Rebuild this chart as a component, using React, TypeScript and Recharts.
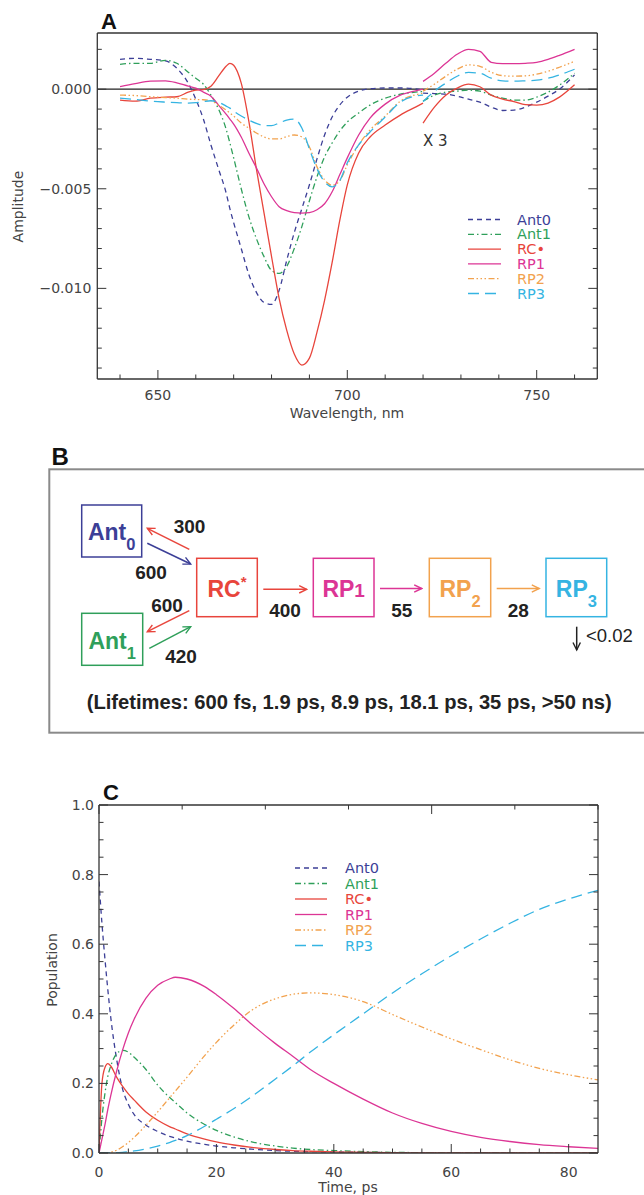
import React from 'react';
import { LineChart, Line, XAxis, YAxis, ReferenceLine } from 'recharts';

// ---- panel A: decay-associated spectra (amplitude in units of 1e-3) ----
const wavelengths = [640, 644, 648, 652, 655, 658, 660, 662, 664, 666, 668, 669, 670, 672, 674, 676, 678, 680, 682, 684, 686, 688, 690, 692, 694, 696, 698, 700, 703, 706, 710, 714, 718, 720];
const ant0Amp = [1.5, 1.55, 1.5, 1.42, 1.05, 0.3, -0.5, -1.5, -2.8, -4.0, -5.2, -6.0, -6.7, -8.0, -9.3, -10.2, -10.7, -10.8, -10.1, -8.6, -7.2, -6.0, -4.8, -3.5, -2.3, -1.4, -0.8, -0.4, -0.1, 0.02, 0.06, 0.06, 0.02, -0.05];
const ant1Amp = [1.25, 1.3, 1.3, 1.45, 1.3, 0.85, 0.55, 0.25, -0.3, -1.0, -2.0, -2.7, -3.45, -5.0, -6.4, -7.5, -8.4, -9.1, -9.25, -8.9, -8.0, -6.9, -5.6, -4.4, -3.4, -2.7, -2.1, -1.65, -1.2, -0.8, -0.45, -0.25, -0.15, -0.12];
const rcAmp = [-0.55, -0.6, -0.45, -0.4, -0.38, -0.15, -0.05, -0.02, 0.15, 0.65, 1.15, 1.3, 1.2, 0.3, -1.6, -4.0, -6.2, -8.4, -10.5, -12.1, -13.3, -13.85, -13.5, -12.2, -10.6, -8.7, -6.6, -4.8, -3.2, -2.4, -1.8, -1.3, -0.9, -0.7];
const rp1Amp = [0.13, 0.28, 0.4, 0.42, 0.32, 0.15, 0.05, -0.15, -0.35, -0.8, -1.25, -1.5, -1.75, -2.4, -3.2, -3.95, -4.75, -5.4, -5.9, -6.1, -6.2, -6.22, -6.2, -6.05, -5.75, -5.15, -4.3, -3.45, -2.3, -1.45, -0.75, -0.3, -0.08, 0.0];
const rp2Amp = [-0.3, -0.32, -0.38, -0.42, -0.45, -0.5, -0.52, -0.53, -0.58, -0.8, -1.05, -1.2, -1.35, -1.7, -1.95, -2.2, -2.4, -2.5, -2.5, -2.38, -2.3, -2.4, -2.9, -3.9, -4.55, -4.82, -4.6, -3.8, -2.8, -2.05, -1.35, -0.6, -0.28, -0.2];
const rp3Amp = [-0.45, -0.52, -0.6, -0.65, -0.68, -0.7, -0.68, -0.62, -0.58, -0.65, -0.85, -0.95, -1.1, -1.35, -1.55, -1.72, -1.82, -1.83, -1.7, -1.55, -1.5, -1.95, -3.0, -4.0, -4.65, -4.9, -4.6, -3.7, -2.8, -2.15, -1.4, -0.65, -0.35, -0.3];

// the part above 720 nm is drawn magnified x3
const wavelengthsX3 = [720, 723, 726, 729, 732, 735, 738, 741, 744, 747, 750, 753, 756, 760];
const ant0AmpX3 = [-0.2, -0.22, -0.25, -0.35, -0.5, -0.65, -0.9, -1.07, -1.05, -0.9, -0.65, -0.35, 0.0, 0.72];
const ant1AmpX3 = [-0.6, -0.3, -0.15, -0.1, -0.05, -0.1, -0.3, -0.45, -0.55, -0.55, -0.4, -0.15, 0.2, 0.8];
const rcAmpX3 = [-1.7, -0.9, -0.3, 0.05, 0.25, 0.12, -0.3, -0.5, -0.62, -0.78, -0.8, -0.7, -0.4, 0.22];
const rp1AmpX3 = [0.39, 0.8, 1.3, 1.75, 2.0, 1.9, 1.35, 1.28, 1.28, 1.3, 1.35, 1.5, 1.7, 2.0];
const rp2AmpX3 = [-0.1, 0.25, 0.65, 1.0, 1.22, 1.15, 0.85, 0.68, 0.65, 0.67, 0.75, 0.9, 1.1, 1.4];
const rp3AmpX3 = [-0.62, -0.1, 0.3, 0.65, 0.84, 0.8, 0.55, 0.42, 0.4, 0.42, 0.45, 0.55, 0.72, 1.0];

const wlTicks = [640, 650, 660, 670, 680, 690, 700, 710, 720, 730, 740, 750, 760];
const ampTicks = [-14, -13, -12, -11, -10, -9, -8, -7, -6, -5, -4, -3, -2, -1, 0, 1, 2];

// ---- panel C: populations ----
const times = [0, 0.5, 1, 1.5, 2, 3, 4, 5, 6, 8, 10, 12, 13, 15, 18, 20, 23, 26, 30, 33, 36, 40, 45, 50, 55, 60, 65, 70, 75, 80, 85];
const ant0Pop = [0.78, 0.66, 0.56, 0.47, 0.39, 0.27, 0.185, 0.14, 0.11, 0.08, 0.062, 0.048, 0.043, 0.034, 0.025, 0.02, 0.015, 0.011, 0.007, 0.005, 0.004, 0.003, 0.002, 0.001, 0.0005, 0, 0, 0, 0, 0, 0];
const ant1Pop = [0, 0.1, 0.17, 0.22, 0.25, 0.285, 0.295, 0.29, 0.275, 0.24, 0.195, 0.16, 0.145, 0.115, 0.082, 0.065, 0.046, 0.032, 0.02, 0.014, 0.01, 0.007, 0.004, 0.002, 0.001, 0.0005, 0, 0, 0, 0, 0];
const rcPop = [0, 0.2, 0.245, 0.257, 0.25, 0.218, 0.192, 0.17, 0.152, 0.118, 0.094, 0.076, 0.069, 0.055, 0.04, 0.032, 0.023, 0.016, 0.01, 0.007, 0.005, 0.003, 0.002, 0.001, 0, 0, 0, 0, 0, 0, 0];
const rp1Pop = [0, 0.04, 0.08, 0.125, 0.165, 0.235, 0.295, 0.345, 0.385, 0.445, 0.482, 0.5, 0.505, 0.5, 0.478, 0.455, 0.415, 0.37, 0.315, 0.278, 0.24, 0.2, 0.155, 0.115, 0.085, 0.062, 0.045, 0.033, 0.024, 0.018, 0.013];
const rp2Pop = [0, 0, 0, 0, 0.002, 0.008, 0.018, 0.03, 0.045, 0.08, 0.118, 0.158, 0.178, 0.218, 0.28, 0.318, 0.368, 0.41, 0.443, 0.456, 0.46, 0.455, 0.435, 0.398, 0.362, 0.328, 0.297, 0.268, 0.243, 0.225, 0.21];
const rp3Pop = [0, 0, 0, 0, 0, 0.001, 0.002, 0.004, 0.006, 0.012, 0.02, 0.03, 0.036, 0.05, 0.077, 0.097, 0.128, 0.162, 0.212, 0.25, 0.29, 0.34, 0.4, 0.46, 0.515, 0.567, 0.615, 0.66, 0.7, 0.73, 0.755];

const timeTicks = [0, 5, 10, 15, 20, 25, 30, 35, 40, 45, 50, 55, 60, 65, 70, 75, 80];
const popTicks = [0, 0.05, 0.1, 0.15, 0.2, 0.25, 0.3, 0.35, 0.4, 0.45, 0.5, 0.55, 0.6, 0.65, 0.7, 0.75, 0.8, 0.85, 0.9, 0.95, 1.0];

// ---- panel B: kinetic scheme ----
const rateLabels = ['300', '600', '600', '420', '400', '55', '28'];
const trapRate = '<0.02';
const lifetimes = ['600 fs', '1.9 ps', '8.9 ps', '18.1 ps', '35 ps', '>50 ns'];

const seriesNames = ['Ant0', 'Ant1', 'RC\u2022', 'RP1', 'RP2', 'RP3'];
const keys = ['ant0', 'ant1', 'rc', 'rp1', 'rp2', 'rp3'];

const styles = [
    { color: '#3c3f97', dash: '5 4' },
    { color: '#2f9f5a', dash: '6 3 1.5 3' },
    { color: '#e8453c', dash: undefined },
    { color: '#dc3595', dash: undefined },
    { color: '#f2a24e', dash: '6 2.5 1.5 2.5 1.5 2.5 1.5 2.5' },
    { color: '#35b4e2', dash: '11 6' },
];

const ampSeries = [ant0Amp, ant1Amp, rcAmp, rp1Amp, rp2Amp, rp3Amp];
const ampSeriesX3 = [ant0AmpX3, ant1AmpX3, rcAmpX3, rp1AmpX3, rp2AmpX3, rp3AmpX3];
const popSeries = [ant0Pop, ant1Pop, rcPop, rp1Pop, rp2Pop, rp3Pop];

const wlAll = Array.from(new Set([...wavelengths, ...wavelengthsX3])).sort((a, b) => a - b);
const ampRows = wlAll.map((w) => {
    const row: Record<string, number> = { wl: w };
    const i = wavelengths.indexOf(w);
    const j = wavelengthsX3.indexOf(w);
    keys.forEach((k, s) => {
        if (i >= 0) row[k] = ampSeries[s][i];
        if (j >= 0) row[k + 'X3'] = ampSeriesX3[s][j];
    });
    return row;
});

const popRows = times.map((t, i) => {
    const row: Record<string, number> = { t };
    keys.forEach((k, s) => {
        row[k] = popSeries[s][i];
    });
    return row;
});

const AXIS_FONT = 'DejaVu Sans, Verdana, sans-serif';
const BOLD_FONT = 'Liberation Sans, Arial, Helvetica, sans-serif';
const FRAME = '#353535';
const axisLine = { stroke: FRAME, strokeWidth: 1.3 };

type Side = 'bottom' | 'top' | 'left' | 'right';

const makeTick =
    (side: Side, isMajor: (v: number) => boolean, format?: (v: number) => string, gap = 0) =>
    (p: any) => {
        const x = Number(p.x);
        const y = Number(p.y);
        const v = Number(p.payload.value);
        const len = isMajor(v) ? 9 : 4.5;
        let x2 = x;
        let y2 = y;
        if (side === 'bottom') y2 = y - len;
        if (side === 'top') y2 = y + len;
        if (side === 'left') x2 = x + len;
        if (side === 'right') x2 = x - len;
        let label = null;
        if (format && isMajor(v)) {
            if (side === 'bottom')
                label = (
                    <text x={x} y={y + gap} textAnchor="middle" dominantBaseline="central" fontFamily={AXIS_FONT} fontSize={14} fill="#444">
                        {format(v)}
                    </text>
                );
            if (side === 'left')
                label = (
                    <text x={x - gap} y={y} textAnchor="end" dominantBaseline="central" fontFamily={AXIS_FONT} fontSize={14} fill="#444">
                        {format(v)}
                    </text>
                );
        }
        return (
            <g>
                <line x1={x} y1={y} x2={x2} y2={y2} stroke={FRAME} strokeWidth={1} />
                {label}
            </g>
        );
    };

const wlMajor = (v: number) => v % 50 === 0;
const ampMajor = (v: number) => Math.round(v) % 5 === 0;
const timeMajor = (v: number) => v % 20 === 0;
const popMajor = (v: number) => Math.abs(v * 5 - Math.round(v * 5)) < 1e-6;

const fmtAmp = (v: number) => (v === 0 ? '0.000' : (v < 0 ? '\u2212' : '') + (Math.abs(v) / 1000).toFixed(3));
const fmtInt = (v: number) => String(v);
const fmtPop = (v: number) => v.toFixed(1);

const SeriesLegend: React.FC<{ x1: number; x2: number; tx: number; y0: number; dy: number }> = ({ x1, x2, tx, y0, dy }) => (
    <g>
        {seriesNames.map((n, i) => (
            <g key={n}>
                <line x1={x1} x2={x2} y1={y0 + i * dy} y2={y0 + i * dy} stroke={styles[i].color} strokeDasharray={styles[i].dash} strokeWidth={1.3} />
                <text x={tx} y={y0 + i * dy} dominantBaseline="central" fill={styles[i].color} fontFamily={AXIS_FONT} fontSize={14.5}>
                    {n}
                </text>
            </g>
        ))}
    </g>
);

// scheme layout
const boxes = [
    { x: 81.7, y: 505, w: 60, h: 52, color: '#3c3f97', main: 'Ant', sub: '0', base: 540 },
    { x: 81.7, y: 613.3, w: 61, h: 52, color: '#2f9f5a', main: 'Ant', sub: '1', base: 648.5 },
    { x: 196.7, y: 558.3, w: 60.6, h: 58.4, color: '#e8453c', main: 'RC', sup: '*', base: 596.7 },
    { x: 313.3, y: 558.3, w: 60.7, h: 58.4, color: '#dc3595', main: 'RP', small: '1', base: 596.7 },
    { x: 429.3, y: 558.3, w: 61.4, h: 58.4, color: '#f2a24e', main: 'RP', sub: '2', base: 596.7 },
    { x: 546, y: 558.3, w: 60.7, h: 58.4, color: '#35b4e2', main: 'RP', sub: '3', base: 596.7 },
];

const arrows = [
    { x1: 189.3, y1: 549.3, x2: 147.3, y2: 528.3, color: '#e8453c' },
    { x1: 147.3, y1: 543.3, x2: 190.7, y2: 564, color: '#3c3f97' },
    { x1: 189.3, y1: 610.7, x2: 147.3, y2: 631.7, color: '#e8453c' },
    { x1: 149.3, y1: 648.3, x2: 190.7, y2: 626.7, color: '#2f9f5a' },
    { x1: 263.3, y1: 589.3, x2: 306.7, y2: 589.3, color: '#e8453c' },
    { x1: 380, y1: 588.5, x2: 421.7, y2: 588.5, color: '#dc3595' },
    { x1: 496.7, y1: 588.5, x2: 539.3, y2: 588.5, color: '#f2a24e' },
    { x1: 576.7, y1: 626.7, x2: 576.7, y2: 650, color: '#222222' },
];

const ratePos = [
    { x: 189.5, y: 532.5 },
    { x: 151, y: 578.5 },
    { x: 167, y: 611.5 },
    { x: 181, y: 662.5 },
    { x: 285, y: 616.5 },
    { x: 401.7, y: 616.5 },
    { x: 518.3, y: 616.5 },
];

const Scheme: React.FC = () => (
    <g>
        <defs>
            {arrows.map((a, i) => (
                <marker key={i} id={`ah${i}`} markerWidth={10} markerHeight={10} refX={8.5} refY={5} orient="auto" markerUnits="userSpaceOnUse">
                    <path d="M1,1.3 L8.5,5 L1,8.7" fill="none" stroke={a.color} strokeWidth={1.4} />
                </marker>
            ))}
        </defs>
        <rect x={49.3} y={469.3} width={600} height={263.4} fill="none" stroke="#8a8a8a" strokeWidth={2} />
        <text x={51.5} y={465} fontFamily={BOLD_FONT} fontWeight="bold" fontSize={24} fill="#111">
            B
        </text>
        {boxes.map((b, i) => (
            <g key={i}>
                <rect x={b.x} y={b.y} width={b.w} height={b.h} fill="none" stroke={b.color} strokeWidth={1.5} />
                <text x={b.x + b.w / 2} y={b.base} textAnchor="middle" fontFamily={BOLD_FONT} fontWeight="bold" fontSize={23} fill={b.color}>
                    <tspan>{b.main}</tspan>
                    {b.sub && (
                        <tspan fontSize={16.5} dy={10}>
                            {b.sub}
                        </tspan>
                    )}
                    {b.sup && (
                        <tspan fontSize={15} dy={-10}>
                            {b.sup}
                        </tspan>
                    )}
                    {b.small && <tspan fontSize={19}>{b.small}</tspan>}
                </text>
            </g>
        ))}
        {arrows.map((a, i) => (
            <line key={i} x1={a.x1} y1={a.y1} x2={a.x2} y2={a.y2} stroke={a.color} strokeWidth={1.5} markerEnd={`url(#ah${i})`} />
        ))}
        {rateLabels.map((r, i) => (
            <text key={i} x={ratePos[i].x} y={ratePos[i].y} textAnchor="middle" fontFamily={BOLD_FONT} fontWeight="bold" fontSize={19} fill="#222">
                {r}
            </text>
        ))}
        <text x={586} y={641.5} fontFamily={BOLD_FONT} fontSize={18.5} fill="#222">
            {trapRate}
        </text>
        <text x={86.7} y={709} textLength={525} lengthAdjust="spacingAndGlyphs" fontFamily={BOLD_FONT} fontWeight="bold" fontSize={19.5} fill="#222">
            {`(Lifetimes: ${lifetimes.join(', ')})`}
        </text>
    </g>
);

// axes: bottom/left carry the labels; top/right only tick marks (IDL style frame)
const axisCommon = { interval: 0 as const, tickSize: 0, tickMargin: 0, tickLine: false, axisLine, allowDataOverflow: true };

export default function App() {
    return (
        <div style={{ position: 'absolute', left: 0, top: 0, width: 644, height: 1195, background: '#fff', overflow: 'hidden' }}>
            <div style={{ position: 'absolute', left: 0, top: 0 }}>
                <LineChart width={644} height={420} data={ampRows} margin={{ top: 32, right: 45.7, bottom: 11, left: 37.3 }}>
                    <XAxis dataKey="wl" type="number" domain={[634, 766]} ticks={wlTicks} height={30} tick={makeTick('bottom', wlMajor, fmtInt, 16)} {...axisCommon} />
                    <XAxis xAxisId="top" orientation="top" type="number" domain={[634, 766]} ticks={wlTicks} height={1} tick={makeTick('top', wlMajor)} {...axisCommon} />
                    <YAxis type="number" domain={[-14.55, 2.82]} ticks={ampTicks} width={60} tick={makeTick('left', ampMajor, fmtAmp, 6)} {...axisCommon} />
                    <YAxis yAxisId="right" orientation="right" type="number" domain={[-14.55, 2.82]} ticks={ampTicks} width={1} tick={makeTick('right', ampMajor)} {...axisCommon} />
                    <ReferenceLine y={0} stroke="#222" strokeWidth={1.3} />
                    {keys.map((k, s) => (
                        <Line key={k} type="monotone" dataKey={k} stroke={styles[s].color} strokeDasharray={styles[s].dash} strokeWidth={1.3} dot={false} activeDot={false} isAnimationActive={false} />
                    ))}
                    {keys.map((k, s) => (
                        <Line key={k + 'X3'} type="monotone" dataKey={k + 'X3'} stroke={styles[s].color} strokeDasharray={styles[s].dash} strokeWidth={1.3} dot={false} activeDot={false} isAnimationActive={false} />
                    ))}
                </LineChart>
            </div>
            <div style={{ position: 'absolute', left: 0, top: 770 }}>
                <LineChart width={644} height={425} data={popRows} margin={{ top: 34, right: 45, bottom: 12, left: 39 }}>
                    <XAxis dataKey="t" type="number" domain={[0, 85]} ticks={timeTicks} height={30} tick={makeTick('bottom', timeMajor, fmtInt, 19)} {...axisCommon} />
                    <XAxis xAxisId="top" orientation="top" type="number" domain={[0, 85]} ticks={timeTicks} height={1} tick={makeTick('top', timeMajor)} {...axisCommon} />
                    <YAxis type="number" domain={[0, 1]} ticks={popTicks} width={60} tick={makeTick('left', popMajor, fmtPop, 5)} {...axisCommon} />
                    <YAxis yAxisId="right" orientation="right" type="number" domain={[0, 1]} ticks={popTicks} width={1} tick={makeTick('right', popMajor)} {...axisCommon} />
                    {keys.map((k, s) => (
                        <Line key={k} type="monotone" dataKey={k} stroke={styles[s].color} strokeDasharray={styles[s].dash} strokeWidth={1.3} dot={false} activeDot={false} isAnimationActive={false} />
                    ))}
                </LineChart>
            </div>
            <svg width={644} height={1195} style={{ position: 'absolute', left: 0, top: 0, pointerEvents: 'none' }}>
                {/* panel A annotations */}
                <text x={101} y={28.5} fontFamily={BOLD_FONT} fontWeight="bold" fontSize={22} fill="#111">
                    A
                </text>
                <text x={18} y={206.5} transform="rotate(-90 18 206.5)" textAnchor="middle" dominantBaseline="central" fontFamily={AXIS_FONT} fontSize={14} fill="#444">
                    Amplitude
                </text>
                <text x={347} y={413} textAnchor="middle" dominantBaseline="central" fontFamily={AXIS_FONT} fontSize={14} fill="#444">
                    Wavelength, nm
                </text>
                <text x={423} y={141} dominantBaseline="central" fontFamily={AXIS_FONT} fontSize={15} fill="#333">
                    X 3
                </text>
                <SeriesLegend x1={468} x2={501} tx={517} y0={219.5} dy={14.8} />

                <Scheme />

                {/* panel C annotations */}
                <text x={103} y={800} fontFamily={BOLD_FONT} fontWeight="bold" fontSize={22} fill="#111">
                    C
                </text>
                <text x={52} y={970} transform="rotate(-90 52 970)" textAnchor="middle" dominantBaseline="central" fontFamily={AXIS_FONT} fontSize={14} fill="#444">
                    Population
                </text>
                <text x={348} y={1187} textAnchor="middle" dominantBaseline="central" fontFamily={AXIS_FONT} fontSize={14} fill="#444">
                    Time, ps
                </text>
                <SeriesLegend x1={295} x2={327} tx={345} y0={868} dy={15.5} />
            </svg>
        </div>
    );
}
